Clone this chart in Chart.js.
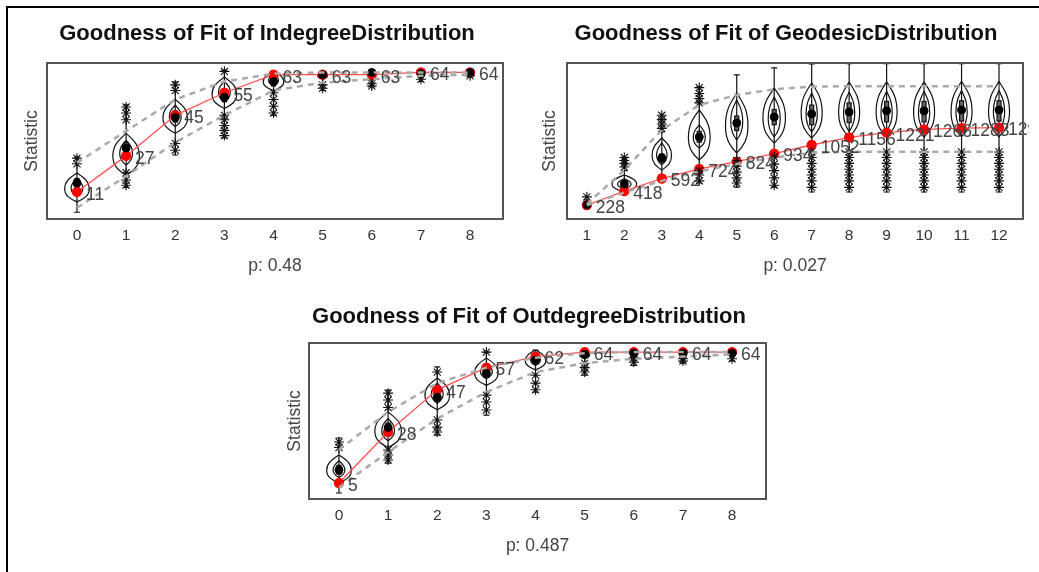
<!DOCTYPE html>
<html>
<head>
<meta charset="utf-8">
<title>Goodness of Fit</title>
<script src="https://cdn.jsdelivr.net/npm/chart.js@4.4.1/dist/chart.umd.min.js"></script>
<style>
  body { margin:0; background:#fff; width:1039px; height:572px; overflow:hidden; position:relative; }
  .frame { position:absolute; left:6px; top:6px; width:1040px; height:570px; border-top:2px solid #000; border-left:2px solid #000; }
  canvas { position:absolute; }
</style>
</head>
<body>
<div class="frame"></div>
<canvas id="indeg" width="510" height="275" style="left:8px;top:9px"></canvas>
<canvas id="geo" width="519" height="275" style="left:520px;top:9px"></canvas>
<canvas id="outdeg" width="510" height="282" style="left:265px;top:290px"></canvas>
<script>
// ---- Indegree ----
const indegCats = [0, 1, 2, 3, 4, 5, 6, 7, 8];
const indegTicks = ['0', '1', '2', '3', '4', '5', '6', '7', '8'];
const indegObs = [11, 27, 45, 55, 63, 63, 63, 64, 64];
const indegMedian = [15, 30.5, 44, 53, 60, 63, 64, 63.5, 64];
const indegUpper = [24, 38, 52, 60, 63.5, 64, 64, 64, 64];
const indegLower = [4, 18, 33, 45, 56, 59.5, 61, 62.5, 63];
// [low, high, half width]
const indegOuter = [[6.6, 19.4, 0.25], [18.5, 37, 0.27], [37, 52, 0.25], [48, 62, 0.25], [56, 64.5, 0.21], [61, 64.5, 0.1], [60, 64.8, 0.06], [61, 64, 0.06], [63, 64, 0.05]];
const indegInner = [[9, 17, 0.12], [23, 34, 0.13], [40, 49.5, 0.12], [51, 60, 0.12], [58, 63.5, 0.1], null, null, null, null];
const indegBox = [[13, 17], [28, 33], [42, 47], [51, 56], [58, 62], [62, 64], [62, 64], [62, 64], [63, 64]];
const indegWhisker = [[2, 26.5], [13, 49.6], [27.4, 59.8], [35, 65], [45, 64.5], [56, 64.5], [58, 65], [60, 64], [62, 64]];
const indegStars = [[0, 26], [0, 23.5], [1, 48.7], [1, 46], [1, 43], [1, 19.5], [1, 16.3], [1, 14], [2, 58.5], [2, 56], [2, 32.5], [2, 29.5],
  [3, 64.5], [3, 45], [3, 43], [3, 40.5], [3, 38.3], [3, 36], [4, 55], [4, 52], [4, 49], [4, 46], [5, 57], [5, 58.5], [6, 59], [6, 58], [7, 61], [8, 62.5]];

// ---- Geodesic ----
const geoCats = [1, 2, 3, 4, 5, 6, 7, 8, 9, 10, 11, 12];
const geoTicks = ['1', '2', '3', '4', '5', '6', '7', '8', '9', '10', '11', '12'];
const geoObs = [228, 418, 592, 724, 824, 934, 1052, 1156, 1221, 1266, 1283, 1292];
const geoMedian = [230, 516, 874, 1162, 1354, 1437, 1478, 1505, 1521, 1521, 1533, 1533];
const geoUpper = [240, 709, 1258, 1602, 1739, 1817, 1853, 1860, 1860, 1860, 1860, 1860];
const geoLower = [225, 400, 560, 690, 790, 880, 945, 960, 960, 960, 960, 960];
const geoOuter = [[228, 255, 0.1], [407, 640, 0.33], [709, 1148, 0.26], [846, 1533, 0.29], [942, 1767, 0.3], [1080, 1835, 0.3],
  [1148, 1904, 0.28], [1160, 1915, 0.28], [1160, 1920, 0.28], [1160, 1920, 0.28], [1165, 1925, 0.28], [1165, 1925, 0.28]];
const geoInner = [null, [450, 590, 0.18], [780, 1080, 0.14], [1011, 1327, 0.16], [1121, 1670, 0.16], [1162, 1712, 0.16],
  [1231, 1767, 0.15], [1240, 1780, 0.15], [1250, 1790, 0.15], [1250, 1790, 0.15], [1260, 1800, 0.15], [1260, 1800, 0.15]];
const geoBox = [[226, 234], [480, 560], [820, 930], [1090, 1240], [1250, 1450], [1330, 1540], [1330, 1600], [1360, 1630], [1370, 1650], [1370, 1650], [1380, 1660], [1380, 1660]];
const geoWhisker = [[222, 300], [380, 700], [613, 1231], [530, 1850], [475, 2014], [475, 2110], [407, 2165], [407, 2170], [407, 2170], [407, 2170], [407, 2170], [407, 2170]];
const geoStars = [[1, 340], [2, 880], [2, 840], [2, 800], [2, 750], [3, 1460], [3, 1400], [3, 1340], [3, 1280],
  [4, 1840], [4, 1760], [4, 1690], [4, 1630], [4, 700], [4, 640], [4, 560],
  [5, 840], [5, 760], [5, 680], [5, 600], [5, 530], [6, 887], [6, 790], [6, 700], [6, 600], [6, 500],
  [7, 956], [7, 880], [7, 800], [7, 720], [7, 640], [7, 560], [7, 470],
  [8, 956], [8, 880], [8, 800], [8, 720], [8, 640], [8, 560], [8, 470],
  [9, 956], [9, 880], [9, 800], [9, 720], [9, 640], [9, 560], [9, 470],
  [10, 956], [10, 880], [10, 800], [10, 720], [10, 640], [10, 560], [10, 470],
  [11, 956], [11, 880], [11, 800], [11, 720], [11, 640], [11, 560], [11, 470],
  [12, 956], [12, 880], [12, 800], [12, 720], [12, 640], [12, 560], [12, 470]];

// ---- Outdegree ----
const outCats = [0, 1, 2, 3, 4, 5, 6, 7, 8];
const outTicks = ['0', '1', '2', '3', '4', '5', '6', '7', '8'];
const outObs = [5, 28, 47, 57, 62, 64, 64, 64, 64];
const outMedian = [10.9, 30, 43.7, 54.5, 60.4, 63, 63.5, 63.5, 63.5];
const outUpper = [20, 37, 50, 57, 61.5, 63.5, 64, 64, 64];
const outLower = [3, 19, 34, 46, 55, 59, 61, 62, 63];
const outOuter = [[5, 17.6, 0.25], [21, 37, 0.27], [38, 52.3, 0.25], [49, 61.3, 0.24], [56, 64.9, 0.21], [61, 64.5, 0.1], [60, 64.5, 0.06], [60, 64, 0.06], [61, 64, 0.05]];
const outInner = [[7.5, 15, 0.12], [24, 34, 0.13], [41, 50, 0.12], [52, 59, 0.12], [58, 63.5, 0.1], null, null, null, null];
const outBox = [[9, 13], [28, 32], [42, 46], [53, 57], [59, 62], [62, 64], [62, 64], [62, 64], [62, 64]];
const outWhisker = [[0.5, 25.3], [14, 46.9], [26.6, 57.3], [35.6, 64], [46, 64.9], [53.6, 64.5], [58, 64.5], [59, 64], [60, 64]];
const outStars = [[0, 23.5], [0, 21], [1, 45.5], [1, 42.4], [1, 39], [1, 19.9], [1, 17.6], [1, 15.4], [2, 55], [2, 33.4], [2, 30.2], [2, 28],
  [3, 64], [3, 44.6], [3, 41.5], [3, 37.9], [4, 53.6], [4, 50], [4, 47], [5, 55], [5, 57], [5, 59], [6, 59.5], [6, 61.5], [7, 60], [7, 61], [8, 61]];

const FONT = '"Liberation Sans", Arial, sans-serif';
Chart.defaults.font.family = FONT;
Chart.defaults.color = '#333';

// onion shaped outline, pointed at both ends
function spindle(ctx, px, yLo, yHi, hw) {
  const h = yLo - yHi;
  const ym = yLo - h * 0.45;
  const a = ym - yHi, b = yLo - ym;
  ctx.beginPath();
  ctx.moveTo(px, yHi);
  ctx.bezierCurveTo(px + hw * 0.55, yHi + a * 0.3, px + hw, ym - a * 0.5, px + hw, ym);
  ctx.bezierCurveTo(px + hw, ym + b * 0.5, px + hw * 0.6, yLo - b * 0.25, px, yLo);
  ctx.bezierCurveTo(px - hw * 0.6, yLo - b * 0.25, px - hw, ym + b * 0.5, px - hw, ym);
  ctx.bezierCurveTo(px - hw, ym - a * 0.5, px - hw * 0.55, yHi + a * 0.3, px, yHi);
  ctx.stroke();
}

function makeGof(id, d, lay) {
  const pts = vals => d.cats.map((c, i) => ({x: c, y: vals[i]}));

  const violins = {
    id: 'violins',
    beforeDatasetsDraw(chart) {
      const {ctx, chartArea: a, scales: {x, y}} = chart;
      const unit = x.getPixelForValue(1) - x.getPixelForValue(0);
      ctx.save();
      ctx.beginPath();
      ctx.rect(a.left, a.top, a.right - a.left, a.bottom - a.top);
      ctx.clip();
      ctx.strokeStyle = '#111';
      ctx.lineWidth = 1.2;
      d.cats.forEach((c, i) => {
        const px = x.getPixelForValue(c);
        const w = d.whisker[i];
        ctx.beginPath();
        ctx.moveTo(px, y.getPixelForValue(w[0]));
        ctx.lineTo(px, y.getPixelForValue(w[1]));
        w.forEach(v => {
          const py = y.getPixelForValue(v);
          ctx.moveTo(px - 3, py);
          ctx.lineTo(px + 3, py);
        });
        ctx.stroke();
        const o = d.outer[i];
        spindle(ctx, px, y.getPixelForValue(o[0]), y.getPixelForValue(o[1]), o[2] * unit);
        const n = d.inner[i];
        if (n) spindle(ctx, px, y.getPixelForValue(n[0]), y.getPixelForValue(n[1]), n[2] * unit);
        const b = d.box[i];
        const b0 = y.getPixelForValue(b[0]), b1 = y.getPixelForValue(b[1]);
        ctx.fillStyle = '#666';
        ctx.fillRect(px - 2, b1, 4, b0 - b1);
        ctx.strokeRect(px - 2, b1, 4, b0 - b1);
      });
      ctx.restore();
    }
  };

  const obsLabels = {
    id: 'obsLabels',
    afterDatasetsDraw(chart) {
      const {ctx, chartArea: a} = chart;
      const meta = chart.getDatasetMeta(4);
      ctx.save();
      ctx.beginPath();
      ctx.rect(0, a.top - 10, a.right + 6, a.bottom - a.top + 20);
      ctx.clip();
      ctx.font = '17.5px ' + FONT;
      ctx.fillStyle = '#444';
      ctx.textAlign = 'left';
      ctx.textBaseline = 'middle';
      meta.data.forEach((el, i) => ctx.fillText(String(d.obs[i]), el.x + 9, el.y + 3));
      ctx.restore();
    }
  };

  const frame = {
    id: 'frame',
    afterDraw(chart) {
      const {ctx, chartArea: a} = chart;
      ctx.save();
      ctx.strokeStyle = '#555';
      ctx.lineWidth = 2;
      ctx.strokeRect(a.left, a.top, a.right - a.left, a.bottom - a.top);
      ctx.restore();
    }
  };

  return new Chart(document.getElementById(id), {
    type: 'scatter',
    data: {
      datasets: [
        {data: pts(d.upper), showLine: true, borderColor: '#aaa', borderWidth: 2.5, borderDash: [6, 5], pointRadius: 0},
        {data: pts(d.lower), showLine: true, borderColor: '#aaa', borderWidth: 2.5, borderDash: [6, 5], pointRadius: 0},
        {data: d.stars.map(s => ({x: s[0], y: s[1]})), pointStyle: 'star', pointRadius: 5, borderColor: '#111', borderWidth: 1.1, backgroundColor: 'transparent'},
        {data: pts(d.median), pointRadius: 4, backgroundColor: '#000', borderColor: '#000'},
        {data: pts(d.obs), showLine: true, borderColor: '#ff5050', borderWidth: 1.3, pointRadius: 4.5,
         pointBackgroundColor: '#f00', pointBorderColor: '#f00'}
      ]
    },
    options: {
      responsive: false,
      animation: false,
      devicePixelRatio: 1,
      layout: {padding: {left: lay.padLeft, right: lay.padRight, top: 0, bottom: 0}},
      plugins: {
        legend: {display: false},
        tooltip: {enabled: false},
        title: {display: true, text: d.title, color: '#111', font: {size: 22, weight: 'bold'},
                padding: {top: lay.titleTop, bottom: lay.titleBottom}}
      },
      scales: {
        x: {
          type: 'linear', min: lay.xMin, max: lay.xMax,
          grid: {display: false, drawTicks: false}, border: {display: false},
          afterBuildTicks: s => { s.ticks = d.cats.map(v => ({value: v})); },
          afterFit: s => { s.height = lay.xHeight; },
          ticks: {autoSkip: false, maxRotation: 0, padding: lay.tickPad, font: {size: 15.5}, color: '#333',
                  callback: (v, i) => d.ticks[i]},
          title: {display: true, text: d.p, color: '#444', font: {size: 17.5}, padding: {top: 0, bottom: lay.xTitleBottom}}
        },
        y: {
          min: lay.yMin, max: lay.yMax,
          grid: {display: false, drawTicks: false}, border: {display: false},
          ticks: {display: false},
          afterFit: s => { s.width = lay.yWidth; },
          title: {display: true, text: 'Statistic', color: '#444', font: {size: 17.5}, padding: {top: lay.yTitlePad, bottom: 0}}
        }
      }
    },
    plugins: [violins, obsLabels, frame]
  });
}

makeGof('indeg', {
  title: 'Goodness of Fit of IndegreeDistribution', p: 'p: 0.48',
  cats: indegCats, ticks: indegTicks, obs: indegObs, median: indegMedian, upper: indegUpper, lower: indegLower,
  outer: indegOuter, inner: indegInner, box: indegBox, whisker: indegWhisker, stars: indegStars
}, {padLeft: 23, padRight: 15, yWidth: 16, yTitlePad: -9.5, titleTop: 11.8, titleBottom: 15.8,
    xHeight: 65, xTitleBottom: 7.5, tickPad: 7.7, xMin: -0.61, xMax: 8.67, yMin: -1, yMax: 68.2});

makeGof('geo', {
  title: 'Goodness of Fit of GeodesicDistribution', p: 'p: 0.027',
  cats: geoCats, ticks: geoTicks, obs: geoObs, median: geoMedian, upper: geoUpper, lower: geoLower,
  outer: geoOuter, inner: geoInner, box: geoBox, whisker: geoWhisker, stars: geoStars
}, {padLeft: 29, padRight: 16, yWidth: 18, yTitlePad: -9.5, titleTop: 11.8, titleBottom: 15.8,
    xHeight: 65, xTitleBottom: 7.5, tickPad: 7.7, xMin: 0.47, xMax: 12.64, yMin: 36, yMax: 2178});

makeGof('outdeg', {
  title: 'Goodness of Fit of OutdegreeDistribution', p: 'p: 0.487',
  cats: outCats, ticks: outTicks, obs: outObs, median: outMedian, upper: outUpper, lower: outLower,
  outer: outOuter, inner: outInner, box: outBox, whisker: outWhisker, stars: outStars
}, {padLeft: 27, padRight: 9, yWidth: 17, yTitlePad: -7.5, titleTop: 13.8, titleBottom: 12.8,
    xHeight: 73, xTitleBottom: 15.5, tickPad: 7.7, xMin: -0.61, xMax: 8.69, yMin: -2.2, yMax: 68.1});
</script>
</body>
</html>
